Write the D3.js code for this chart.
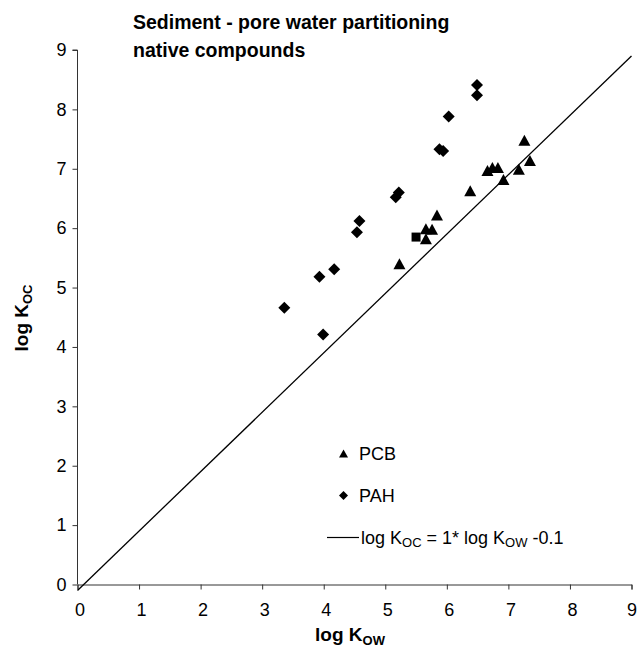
<!DOCTYPE html>
<html><head><meta charset="utf-8">
<script src="https://cdn.jsdelivr.net/npm/d3@7"></script>
<style>body{margin:0;background:#fff}svg{display:block;font-family:"Liberation Sans",Arial,sans-serif}</style>
</head><body><svg id="c" width="638" height="647"></svg>
<script>
const pcbX = [5.23,5.66,5.66,5.76,5.84,6.38,6.66,6.74,6.83,6.92,7.17,7.26,7.35];
const pcbY = [5.40,5.82,5.99,5.98,6.22,6.63,6.97,7.02,7.02,6.82,6.99,7.48,7.14];
const pahX = [3.36,3.93,3.99,4.17,4.54,4.58,5.17,5.22,5.88,5.94,6.03,6.49,6.49];
const pahY = [4.66,5.18,4.21,5.31,5.93,6.12,6.52,6.60,7.33,7.30,7.88,8.24,8.41];
const otherX = [5.50];
const otherY = [5.85];
const lineX = [0, 9];
const slope = 1, intercept = -0.1;
const ticks = [0,1,2,3,4,5,6,7,8,9];

const svg = d3.select("#c");
const x = d3.scaleLinear().domain([0,9]).range([77.5,631.5]);
const y = d3.scaleLinear().domain([0,9]).range([584.5,50]);

const xAxis = svg.append("g").attr("transform","translate(0,584.5)")
  .call(d3.axisBottom(x).tickValues(ticks).tickSize(5).tickPadding(14).tickFormat(d3.format("d")));
const yAxis = svg.append("g").attr("transform","translate(77.5,0)")
  .call(d3.axisLeft(y).tickValues(ticks).tickSize(5).tickPadding(6).tickFormat(d3.format("d")));
[xAxis,yAxis].forEach(a=>{
  a.selectAll("path,line").attr("stroke","#333").attr("stroke-width",1);
  a.selectAll("text").attr("font-size",18).attr("fill","#000").attr("font-family","Liberation Sans, Arial, sans-serif");
});
xAxis.selectAll("text").attr("dx",d=>d===9?0:2);
yAxis.select(".domain").attr("d", `M-5,${y(9)}H0V${y(0)}`);

// regression line
svg.append("line").attr("x1",x(lineX[0])).attr("y1",y(slope*lineX[0]+intercept))
  .attr("x2",x(lineX[1])).attr("y2",y(slope*lineX[1]+intercept))
  .attr("stroke","#000").attr("stroke-width",1.3);

const diamondType = r => ({draw(ctx){ctx.moveTo(0,-r);ctx.lineTo(r,0);ctx.lineTo(0,r);ctx.lineTo(-r,0);ctx.closePath();}});
const triType = (w,h) => ({draw(ctx){ctx.moveTo(0,-h/2);ctx.lineTo(w/2,h/2);ctx.lineTo(-w/2,h/2);ctx.closePath();}});
const tri = d3.symbol().type(triType(12,11));
const dia = d3.symbol().type(diamondType(6));
const sq = d3.symbol().type(d3.symbolSquare).size(81);

svg.append("g").selectAll("path").data(pahX.map((v,i)=>[v,pahY[i]])).join("path")
  .attr("d",dia).attr("transform",d=>`translate(${x(d[0])},${y(d[1])})`).attr("fill","#000");
svg.append("g").selectAll("path").data(otherX.map((v,i)=>[v,otherY[i]])).join("path")
  .attr("d",sq).attr("transform",d=>`translate(${x(d[0])},${y(d[1])})`).attr("fill","#000");
svg.append("g").selectAll("path").data(pcbX.map((v,i)=>[v,pcbY[i]])).join("path")
  .attr("d",tri).attr("transform",d=>`translate(${x(d[0])},${y(d[1])})`).attr("fill","#000");

// title
const t = svg.append("text").attr("font-size",19.5).attr("font-weight","bold");
t.append("tspan").attr("x",133).attr("y",29).text("Sediment - pore water partitioning");
t.append("tspan").attr("x",133).attr("y",57).text("native compounds");

// axis titles
const xt = svg.append("text").attr("x",350).attr("y",641).attr("text-anchor","middle").attr("font-size",19).attr("font-weight","bold");
xt.append("tspan").text("log K");
xt.append("tspan").attr("font-size",13).attr("dy",4).text("OW");
const yt = svg.append("text").attr("transform","translate(28,318) rotate(-90)").attr("text-anchor","middle").attr("font-size",19).attr("font-weight","bold");
yt.append("tspan").text("log K");
yt.append("tspan").attr("font-size",13).attr("dy",4).text("OC");

// legend
const lg = svg.append("g");
lg.append("path").attr("d",d3.symbol().type(triType(9,8))).attr("transform","translate(343.5,453.5)");
lg.append("text").attr("x",359).attr("y",459.5).attr("font-size",18).text("PCB");
lg.append("path").attr("d",d3.symbol().type(diamondType(4.5))).attr("transform","translate(343.5,495.5)");
lg.append("text").attr("x",359).attr("y",501.5).attr("font-size",18).text("PAH");
lg.append("line").attr("x1",327).attr("x2",359).attr("y1",537.5).attr("y2",537.5).attr("stroke","#000").attr("stroke-width",1.2);
const lt = lg.append("text").attr("x",361).attr("y",543.5).attr("font-size",18);
lt.append("tspan").text("log K");
lt.append("tspan").attr("font-size",13).attr("dy",3).text("OC");
lt.append("tspan").attr("dy",-3).text(" = 1* log K");
lt.append("tspan").attr("font-size",13).attr("dy",3).text("OW");
lt.append("tspan").attr("dy",-3).text(" -0.1");
</script></body></html>
